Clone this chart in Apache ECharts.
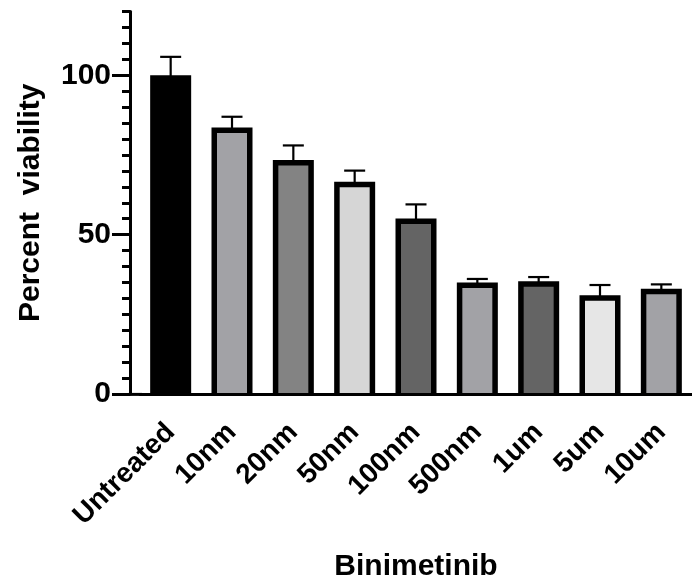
<!DOCTYPE html>
<html>
<head>
<meta charset="utf-8">
<script src="https://cdn.jsdelivr.net/npm/echarts@6/dist/echarts.min.js"></script>
<style>
  html, body { margin: 0; padding: 0; background: #fff; }
  #main { width: 692px; height: 582px; }
</style>
</head>
<body>
<div id="main"></div>
<script>
    // data
    var categories = ['Untreated', '10nm', '20nm', '50nm', '100nm', '500nm', '1um', '5um', '10um'];
    var viability = [100.0, 83.6, 73.4, 66.6, 55.1, 35.0, 35.4, 31.0, 33.0];
    var errUp = [5.8, 3.4, 4.6, 3.5, 4.4, 1.1, 1.3, 3.2, 1.4];
    var barColors = ['#000000', '#a2a2a6', '#838383', '#d6d6d6', '#646464', '#a2a2a6', '#646464', '#e6e6e6', '#a2a2a6'];
    var yMajorTicks = [0, 50, 100];

    var font = 'Liberation Sans, Arial, sans-serif';

    var myChart = echarts.init(document.getElementById('main'));

    var barData = viability.map(function (v, i) {
        return [i, v];
    });
    var errData = viability.map(function (v, i) {
        return [i, v, v + errUp[i]];
    });

    option1 = {
        animation: false,
        grid: { left: 140, right: 0, top: 11.6, bottom: 188, outerBoundsMode: 'none' },
        xAxis: {
            type: 'category',
            data: categories,
            name: 'Binimetinib',
            nameLocation: 'middle',
            nameGap: 158,
            nameTextStyle: { color: '#000', fontFamily: font, fontWeight: 'bold', fontSize: 30 },
            axisLine: { lineStyle: { color: '#000', width: 3 } },
            axisTick: { alignWithLabel: true, length: 15, lineStyle: { color: '#000', width: 3 } },
            axisLabel: {
                interval: 0, rotate: 45, margin: 34,
                color: '#000', fontFamily: font, fontWeight: 'bold', fontSize: 28
            },
            z: 5
        },
        yAxis: [
            {
                type: 'value', min: 0, max: 120, interval: 5,
                position: 'left', offset: 10,
                splitLine: { show: false },
                axisLine: { show: true, lineStyle: { color: '#000', width: 3 } },
                axisTick: { show: true, length: 8, lineStyle: { color: '#000', width: 3 } },
                axisLabel: { show: false }
            },
            {
                type: 'value', min: 0, max: 120, interval: 5,
                position: 'left', offset: 10,
                splitLine: { show: false },
                name: 'Percent  viability',
                nameLocation: 'middle',
                nameGap: 84,
                nameTextStyle: { color: '#000', fontFamily: font, fontWeight: 'bold', fontSize: 30 },
                axisLine: { show: false },
                axisTick: { show: true, length: 18, customValues: yMajorTicks, lineStyle: { color: '#000', width: 3 } },
                axisLabel: {
                    customValues: yMajorTicks, margin: 19,
                    color: '#000', fontFamily: font, fontWeight: 'bold', fontSize: 30
                }
            }
        ],
        graphic: [
            // close the small gap between the offset y axis and the x axis line
            { type: 'line', shape: { x1: 128.5, y1: 394.4, x2: 142, y2: 394.4 }, style: { stroke: '#000', lineWidth: 3 } }
        ],
        series: [
            {
                // error bars (upper only)
                type: 'custom',
                z: 1,
                data: errData,
                renderItem: function (params, api) {
                    var base = api.coord([api.value(0), api.value(1)]);
                    var top = api.coord([api.value(0), api.value(2)]);
                    var half = 10.5;
                    var st = { stroke: '#000', lineWidth: 2.2 };
                    return {
                        type: 'group',
                        children: [
                            { type: 'line', shape: { x1: base[0], y1: base[1] + 3, x2: top[0], y2: top[1] }, style: st },
                            { type: 'line', shape: { x1: top[0] - half, y1: top[1], x2: top[0] + half, y2: top[1] }, style: st }
                        ]
                    };
                }
            },
            {
                // bars: fill plus open border (no bottom edge, like Prism)
                type: 'custom',
                z: 2,
                data: barData,
                renderItem: function (params, api) {
                    var i = api.value(0);
                    var top = api.coord([i, api.value(1)]);
                    var base = api.coord([i, 0]);
                    var w = 41, lw = 5.5;
                    var l = top[0] - w / 2 + lw / 2;
                    var r = top[0] + w / 2 - lw / 2;
                    var t = top[1] + lw / 2;
                    return {
                        type: 'group',
                        children: [
                            { type: 'rect', shape: { x: l, y: t, width: r - l, height: base[1] - t }, style: { fill: barColors[i] } },
                            {
                                type: 'polyline',
                                shape: { points: [[l, base[1]], [l, t], [r, t], [r, base[1]]] },
                                style: { stroke: '#000', lineWidth: lw, fill: null, lineJoin: 'miter' }
                            }
                        ]
                    };
                }
            }
        ]
    };

    myChart.setOption(option1);
</script>
</body>
</html>
